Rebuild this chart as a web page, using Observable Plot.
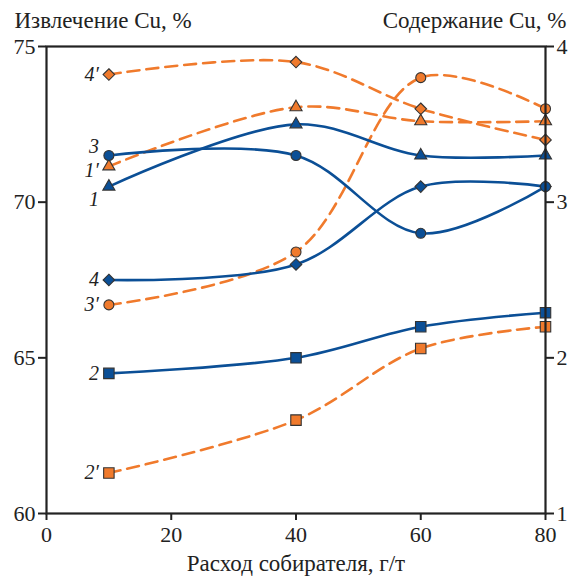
<!DOCTYPE html>
<html>
<head>
<meta charset="utf-8">
<script src="https://cdn.jsdelivr.net/npm/d3@7"></script>
<script src="https://cdn.jsdelivr.net/npm/@observablehq/plot@0.6"></script>
<style>
  html, body { margin: 0; padding: 0; background: #fff; }
  #chart { width: 571px; height: 576px; }
  #chart svg, #chart svg text { font-family: "Liberation Serif", "DejaVu Serif", serif !important; }
</style>
</head>
<body>
<div id="chart"></div>
<script>
// ---- data ----
const dosage = [10, 40, 60, 80];                 // расход собирателя, г/т
// Извлечение Cu, % (left axis)
const recovery1 = [70.5, 72.5, 71.5, 71.5];
const recovery2 = [64.5, 65.0, 66.0, 66.45];
const recovery3 = [71.5, 71.5, 69.0, 70.5];
const recovery4 = [67.5, 68.0, 70.5, 70.5];
// Содержание Cu, % (right axis)
const grade1 = [3.23, 3.61, 3.52, 3.52];
const grade2 = [1.26, 1.60, 2.06, 2.20];
const grade3 = [2.34, 2.68, 3.80, 3.60];
const grade4 = [3.82, 3.90, 3.60, 3.40];

const recoveryNames = ["1", "2", "3", "4"];
const gradeNames = ["1′", "2′", "3′", "4′"];
const symbols = ["triangle", "square", "circle", "diamond2"];

const xTicks = [0, 20, 40, 60, 80];
const leftTicks = [60, 65, 70, 75];
const rightTicks = [1, 2, 3, 4];

const leftTitle = "Извлечение Cu, %";
const rightTitle = "Содержание Cu, %";
const xTitle = "Расход собирателя, г/т";

// ---- mapping of right axis onto left scale ----
const L0 = 60, L1 = 75, R0 = 1, R1 = 4;
const toLeft = r => L0 + (r - R0) * (L1 - L0) / (R1 - R0);
const toRight = l => R0 + (l - L0) * (R1 - R0) / (L1 - L0);

const BLUE = "#0b4f96";
const ORANGE = "#f07a2c";
const FONT = "Liberation Serif, DejaVu Serif, serif";
const symbolR = {triangle: 4.5, square: 5.9, circle: 5, diamond2: 5.2};

const recSeries = [recovery1, recovery2, recovery3, recovery4];
const grdSeries = [grade1, grade2, grade3, grade4];

const rows = [];
recSeries.forEach((vals, i) => vals.forEach((v, j) =>
  rows.push({x: dosage[j], y: v, name: recoveryNames[i], kind: "rec", symbol: symbols[i]})));
grdSeries.forEach((vals, i) => vals.forEach((v, j) =>
  rows.push({x: dosage[j], y: toLeft(v), name: gradeNames[i], kind: "grd", symbol: symbols[i]})));

const recRows = rows.filter(d => d.kind === "rec");
const grdRows = rows.filter(d => d.kind === "grd");
const firstRows = rows.filter(d => d.x === dosage[0]);

const shifted = ["3", "1′", "1"];
const labelOpts = {x: "x", y: "y", text: "name", dx: -10, textAnchor: "end",
  fontStyle: "italic", fontSize: 20, fill: "#222", fontFamily: FONT};

const chart = Plot.plot({
  width: 571,
  height: 576,
  marginLeft: 46,
  marginRight: 26,
  marginTop: 46,
  marginBottom: 63,
  style: {fontSize: "21px", color: "#222", background: "#fff", overflow: "visible"},
  x: {domain: [0, 80]},
  y: {domain: [L0, L1]},
  r: {type: "identity"},
  marks: [
    Plot.line(grdRows, {x: "x", y: "y", z: "name", curve: "catmull-rom", stroke: ORANGE, strokeWidth: 2.6, strokeDasharray: "12,7"}),
    Plot.line(recRows, {x: "x", y: "y", z: "name", curve: "catmull-rom", stroke: BLUE, strokeWidth: 2.6}),
    Plot.dot(grdRows, {x: "x", y: "y", symbol: "symbol", r: d => symbolR[d.symbol], fill: ORANGE, stroke: "#333", strokeWidth: 1.1}),
    Plot.dot(recRows, {x: "x", y: "y", symbol: "symbol", r: d => symbolR[d.symbol], fill: BLUE, stroke: "#333", strokeWidth: 1.1}),
    Plot.text(firstRows.filter(d => !shifted.includes(d.name)), labelOpts),
    Plot.text(firstRows.filter(d => d.name === "3"), {...labelOpts, dy: -9}),
    Plot.text(firstRows.filter(d => d.name === "1′"), {...labelOpts, dy: 4}),
    Plot.text(firstRows.filter(d => d.name === "1"), {...labelOpts, dy: 13}),
    Plot.frame({stroke: "#222", strokeWidth: 2.2}),
    Plot.axisY({anchor: "left", ticks: leftTicks, tickSize: 8, tickPadding: 3, strokeWidth: 2, label: null, fontSize: 22, fontFamily: FONT}),
    Plot.axisY({anchor: "right", ticks: rightTicks.map(toLeft), tickFormat: d => String(Math.round(toRight(d))),
      tickSize: 8, tickPadding: 3, strokeWidth: 2, label: null, fontSize: 22, fontFamily: FONT}),
    Plot.axisX({ticks: xTicks, tickSize: 7, tickPadding: 6, strokeWidth: 2, label: null, fontSize: 22, fontFamily: FONT}),
    Plot.text([leftTitle], {frameAnchor: "top-left", dx: -32, dy: -19, textAnchor: "start", lineAnchor: "bottom", fontSize: 23, fill: "#222", fontFamily: FONT}),
    Plot.text([rightTitle], {frameAnchor: "top-right", dx: 21, dy: -19, textAnchor: "end", lineAnchor: "bottom", fontSize: 23, fill: "#222", fontFamily: FONT}),
    Plot.text([xTitle], {frameAnchor: "bottom", dy: 57, lineAnchor: "bottom", fontSize: 23, fill: "#222", fontFamily: FONT})
  ]
});
document.getElementById("chart").appendChild(chart);
</script>
</body>
</html>
